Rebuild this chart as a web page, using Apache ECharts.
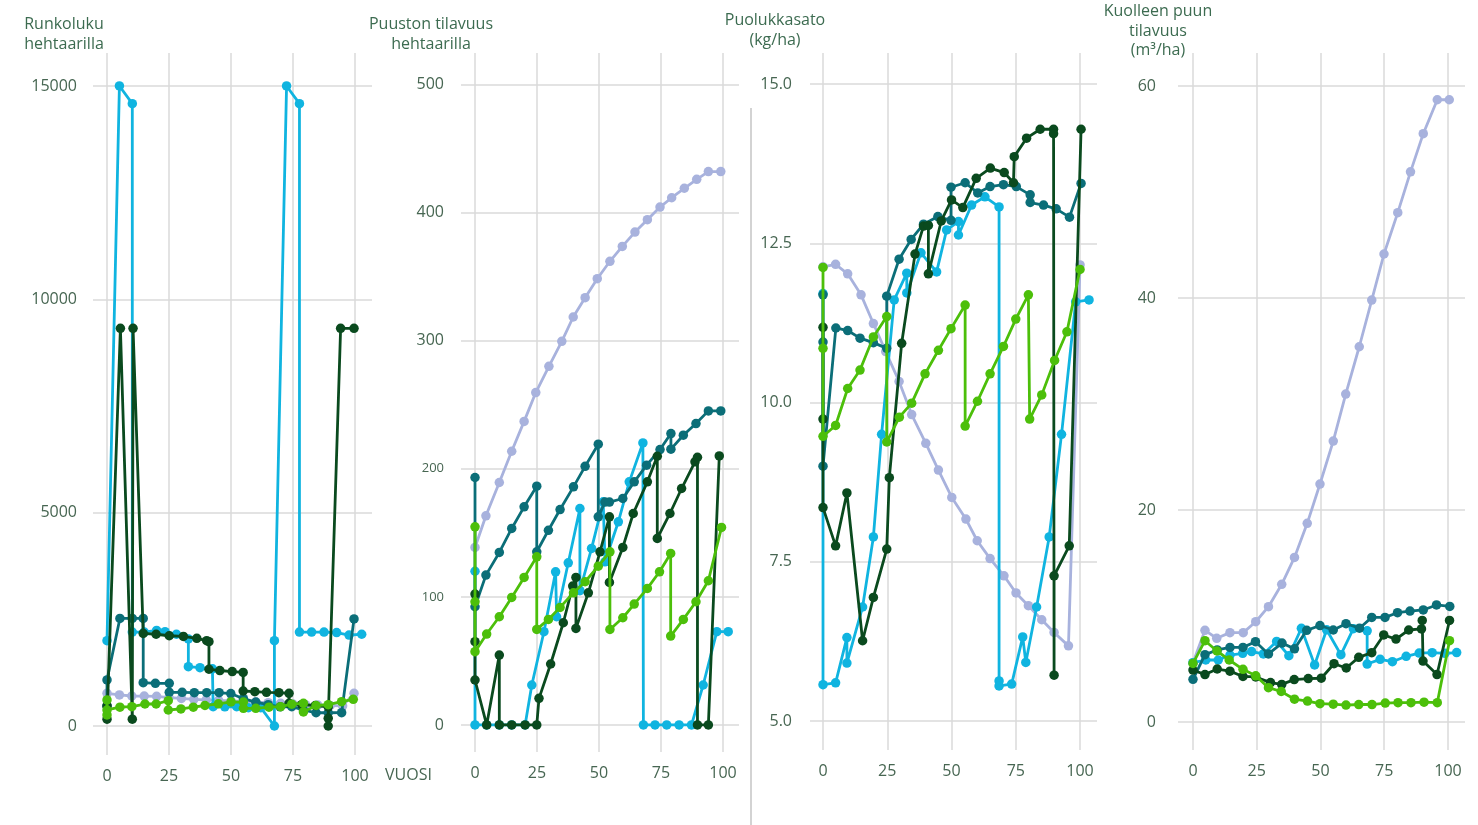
<!DOCTYPE html>
<html>
<head>
<meta charset="utf-8">
<title>Metsän kehitys</title>
<script src="https://cdn.jsdelivr.net/npm/echarts@6/dist/echarts.min.js"></script>
<style>
    html, body { margin: 0; padding: 0; background: #fff; }
    #chart { width: 1478px; height: 825px; }
</style>
</head>
<body>
<div id="chart"></div>
<script>
// x = vuosi, y = arvo; pisteet luettu kuvasta
var yearTicks = [0, 25, 50, 75, 100];
var stemsTicks = [0, 5000, 10000, 15000];
var volumeTicks = [0, 100, 200, 300, 400, 500];
var berryTicks = [5, 7.5, 10, 12.5, 15];
var deadTicks = [0, 20, 40, 60];

// Runkoluku hehtaarilla
var stemsLilac = [[0,765],[5,728],[10,703],[15,700],[20,695],[25,665],[30,645],[35,625],[40,610],[45,600],[50,590],[55,575],[60,560],[65,545],[70,530],[75,515],[80,500],[85,490],[90,480],[95,470],[99.6,765]];
var stemsCyan = [[0,2000],[5,15000],[10.2,14585],[10.2,2200],[15,2200],[20,2240],[23.4,2210],[28,2150],[32.8,2040],[32.8,1390],[37.5,1366],[42.5,1340],[42.8,453],[47.5,450],[52.3,453],[57,430],[62,430],[67.5,0],[67.5,2000],[72.4,15000],[77.6,14585],[77.6,2200],[82.5,2200],[87.5,2200],[92.6,2190],[97.6,2130],[102.7,2150]];
var stemsTeal = [[0,470],[0,1080],[5.2,2520],[10.2,2520],[14.6,2520],[14.6,1015],[19.5,1000],[25.1,1000],[25.1,790],[30.3,790],[35.2,780],[40.2,780],[45.2,780],[49.9,760],[55,640],[60,560],[65,500],[69.8,450],[74.5,453],[79.2,375],[84.3,310],[89.2,310],[94.6,312],[99.6,2510]];
var stemsDark = [[0,470],[0,160],[5.4,9320],[10.2,160],[10.5,9320],[14.6,2170],[19.8,2150],[25.1,2115],[30.8,2100],[36.2,2055],[40.2,2000],[41.1,1975],[41.1,1330],[45.5,1300],[50.5,1275],[54.9,1255],[54.9,820],[59.6,805],[64.3,790],[69.3,780],[73.4,765],[73.4,530],[78.5,500],[84,480],[89.2,450],[89.2,0],[89.2,180],[94.2,9320],[99.6,9320]];
var stemsGreen = [[0,610],[0,258],[0,375],[5.2,440],[10,453],[15.3,515],[19.8,515],[24.7,593],[24.7,375],[29.8,400],[34.8,440],[39.5,480],[44.9,520],[50,565],[55,560],[55,415],[60,415],[65.3,440],[70,453],[74.5,510],[79.2,530],[79.2,330],[84.3,480],[89.2,500],[94.6,570],[99.3,625]];

// Puuston tilavuus hehtaarilla
var volumeLilac = [[0,138.6],[4.4,163.3],[9.8,189.3],[14.8,213.7],[19.8,237],[24.5,259.5],[29.8,280],[35,299.5],[39.6,318.5],[44.4,333.6],[49.3,348.4],[54.4,362],[59.4,373.6],[64.5,384.8],[69.5,394.5],[74.6,404.3],[79.3,411.6],[84.4,419],[89.4,426],[94.1,432],[99.1,432]];
var volumeCyan = [[0,120],[0,0],[4.7,0],[9.8,0],[14.8,0],[20.2,0],[22.9,31.2],[27.8,72.8],[32.5,119.6],[32.9,84.5],[37.6,126.6],[42.3,169],[42.3,104.8],[47,137.8],[51.7,174.2],[52.4,127.4],[57.8,158.6],[62.2,189.8],[67.7,220.2],[67.9,0],[72.6,0],[77.3,0],[82.3,0],[87.3,0],[92,31.2],[97.5,72.8],[102.1,72.8]];
var volumeTeal = [[0,193.2],[0,92.3],[4.4,117],[9.8,134.7],[14.8,153.4],[19.8,170.3],[24.9,186.4],[24.9,135.2],[29.6,152],[34.3,168.2],[39.7,185.9],[44.4,201.9],[49.7,219.2],[49.7,162.5],[52.4,174],[54.2,174],[59.6,176.8],[64.2,189.8],[69.2,202.8],[74.6,215],[79,227.5],[79,215.3],[84,226.2],[89.1,235.3],[94.1,245.2],[99.1,245.2]];
var volumeDark = [[0,102.2],[0,65],[0,35.1],[4.7,0],[9.8,54.6],[9.8,0],[14.8,0],[20.2,0],[24.9,0],[25.8,20.8],[30.5,47.6],[35.6,79.8],[39.4,108.4],[40.7,115.2],[40.7,75.4],[45.7,103.2],[50.4,135.2],[54.2,162.5],[54.2,111.3],[59.6,138.6],[63.8,165.1],[69.5,189.8],[73.5,209.8],[73.5,145.6],[78.6,165.1],[83.3,184.6],[88.7,205.4],[89.7,209],[89.7,0],[94.1,0],[98.5,210]];
var volumeGreen = [[0,154.7],[0,96.2],[0,57.2],[4.7,71],[9.8,84.5],[14.8,99.6],[19.8,115.2],[24.9,131.3],[24.9,74.6],[29.6,82.4],[34.3,91.8],[39.7,103.2],[44.4,111.8],[49.7,124],[54.4,135.2],[54.4,74.6],[59.6,83.7],[64.2,94.4],[69.5,106.6],[74.4,119.6],[78.9,133.9],[78.9,69.4],[84,82.4],[89.1,96.2],[94.1,112.6],[99.4,154.2]];

// Puolukkasato (kg/ha)
var berryLilac = [[0,12.13],[4.9,12.17],[9.6,12.02],[14.8,11.69],[19.6,11.24],[24.4,10.8],[29.6,10.33],[34.5,9.81],[40,9.36],[44.9,8.94],[50.1,8.51],[55.6,8.17],[60,7.83],[65,7.55],[70.4,7.28],[75.1,7.01],[79.9,6.81],[85.1,6.59],[89.9,6.39],[95.5,6.18],[100,12.16]];
var berryCyan = [[0,11.71],[0,5.57],[4.9,5.6],[9.3,6.31],[9.3,5.91],[15.4,6.79],[19.6,7.89],[22.8,9.5],[27.7,11.61],[32.6,12.03],[32.6,11.72],[38.1,12.35],[44.2,12.05],[48.1,12.71],[52.7,12.84],[52.7,12.63],[57.8,13.1],[63,13.23],[68.5,13.07],[68.5,5.63],[68.5,5.55],[73.4,5.58],[77.7,6.32],[78.9,5.92],[83.1,6.79],[88,7.89],[92.8,9.5],[98.3,11.58],[103.5,11.61]];
var berryTeal = [[0,11.69],[0,10.95],[0,9.0],[5,11.17],[9.6,11.13],[14.4,11.01],[19.6,10.94],[24.8,10.85],[24.8,11.67],[29.6,12.25],[34.3,12.56],[39.1,12.8],[44.7,12.92],[49.8,12.86],[49.8,13.38],[55.3,13.45],[60.2,13.29],[65,13.39],[70.2,13.42],[75.2,13.39],[80.6,13.26],[80.6,13.14],[85.8,13.1],[90.7,13.04],[95.9,12.91],[100.4,13.44]];
var berryDark = [[0,11.18],[0,9.74],[0,8.35],[4.9,7.75],[9.3,8.58],[15.4,6.26],[19.6,6.94],[24.8,7.7],[25.8,8.82],[30.6,10.93],[35.8,12.33],[39.1,12.77],[41,12.78],[41,12.02],[46,12.85],[50,13.18],[54.4,13.06],[59.6,13.52],[65.1,13.68],[70.5,13.61],[74.1,13.45],[74.4,13.86],[79.2,14.15],[84.5,14.29],[89.7,14.29],[89.7,14.22],[89.9,5.72],[89.9,7.28],[95.8,7.75],[100.4,14.29]];
var berryGreen = [[0,12.12],[0,10.85],[0,9.47],[4.9,9.64],[9.6,10.22],[14.4,10.51],[19.6,11.03],[24.8,11.35],[24.8,9.38],[29.7,9.77],[34.5,9.99],[39.7,10.45],[44.9,10.82],[49.8,11.16],[55.3,11.53],[55.3,9.63],[60.1,10.02],[65,10.45],[70.2,10.88],[75,11.31],[79.9,11.69],[80.4,9.74],[85.1,10.12],[90.1,10.66],[94.9,11.11],[100,12.09]];

// Kuolleen puun tilavuus (m3/ha)
var deadLilac = [[0,5.6],[4.7,8.65],[9.3,7.9],[14.5,8.43],[19.7,8.43],[24.6,9.46],[29.6,10.88],[34.8,12.99],[39.8,15.53],[44.8,18.74],[49.8,22.45],[55,26.5],[59.9,30.94],[65.2,35.4],[70.1,39.8],[74.9,44.15],[80.3,48.05],[85.3,51.9],[90.3,55.5],[95.8,58.7],[100.5,58.7]];
var deadCyan = [[0,5.6],[5,5.85],[9.9,5.85],[14.5,6.32],[19.5,6.48],[23,6.64],[27.6,6.42],[32.8,7.6],[37.6,6.25],[42.5,8.84],[47.7,5.38],[52.4,8.7],[58,6.35],[62.9,8.8],[68.3,8.6],[68.3,5.47],[73.4,5.91],[78.2,5.69],[83.6,6.2],[88.7,6.5],[93.8,6.54],[98.8,6.48],[103.4,6.55]];
var deadTeal = [[0,4.03],[4.7,6.35],[9.5,6.8],[14.5,7.04],[19.6,7.04],[24.5,7.58],[29.6,6.42],[34.9,7.45],[39.8,6.9],[44.6,8.65],[49.8,9.1],[55,8.68],[60,9.28],[65.3,8.85],[70.1,9.87],[75.3,9.87],[80.2,10.31],[85.1,10.47],[90.3,10.57],[95.5,11.04],[100.7,10.9]];
var deadDark = [[0,4.9],[4.7,4.48],[9.5,5.0],[14.5,4.8],[19.6,4.3],[24.6,4.25],[30.4,3.72],[34.8,3.55],[39.7,4.0],[45.2,4.1],[50.3,4.13],[55.3,5.5],[60.1,5.1],[65,6.1],[70.1,6.54],[74.8,8.21],[79.6,7.82],[84.6,8.68],[89.6,8.78],[89.9,9.58],[90.2,5.75],[95.7,4.48],[100.6,9.58]];
var deadGreen = [[0,5.53],[4.7,7.67],[9.4,6.7],[14.2,5.85],[19.6,4.97],[24.6,4.36],[29.6,3.24],[34.6,2.88],[39.8,2.15],[44.9,1.98],[49.8,1.73],[55,1.68],[60,1.6],[65,1.65],[70.2,1.65],[75.4,1.79],[80.4,1.82],[85.5,1.82],[90.6,1.87],[95.8,1.82],[100.6,7.67]];

var colors = ['#a8b2dd', '#10b4e0', '#0b6e78', '#0a4a1e', '#4cbf0a'];
var labelColor = '#476652';
var titleColor = '#3c6b50';
var gridColor = '#dadada';
var font = '"Open Sans", "Noto Sans", sans-serif';

var panels = [
    {
        series: [stemsLilac, stemsCyan, stemsTeal, stemsDark, stemsGreen],
        ticks: stemsTicks,
        grid: {left: 93, top: 53, width: 279, height: 702},
        x: [-5.65, 106.85], y: [-680, 15773], labelMargin: 16,
        format: function (v) { return String(v); }
    },
    {
        series: [volumeLilac, volumeCyan, volumeTeal, volumeDark, volumeGreen],
        ticks: volumeTicks,
        grid: {left: 461, top: 53, width: 278, height: 699},
        x: [-5.65, 106.45], y: [-21.1, 524.6], labelMargin: 17,
        format: function (v) { return (v === 100 || v === 200) ? '{s|' + v + '}' : String(v); }
    },
    {
        series: [berryLilac, berryCyan, berryTeal, berryDark, berryGreen],
        ticks: berryTicks,
        grid: {left: 810, top: 53, width: 287, height: 697},
        x: [-5.06, 106.6], y: [4.545, 15.487], labelMargin: 18,
        format: function (v) { return v.toFixed(1); }
    },
    {
        series: [deadLilac, deadCyan, deadTeal, deadDark, deadGreen],
        ticks: deadTicks,
        grid: {left: 1178, top: 53, width: 287, height: 697},
        x: [-5.88, 106.67], y: [-2.64, 63.11], labelMargin: 22,
        format: function (v) { return String(v); }
    }
];

var grids = [], xAxes = [], yAxes = [], series = [];
panels.forEach(function (p, i) {
    grids.push(p.grid);
    xAxes.push({
        type: 'value', gridIndex: i, min: p.x[0], max: p.x[1],
        axisLine: {show: false},
        axisTick: {show: false, customValues: yearTicks},
        axisLabel: {customValues: yearTicks, color: labelColor, fontSize: 16, fontFamily: font, margin: 13},
        splitLine: {show: true, lineStyle: {color: gridColor, width: 1.5}}
    });
    yAxes.push({
        type: 'value', gridIndex: i, min: p.y[0], max: p.y[1],
        axisLine: {show: false},
        axisTick: {show: false, customValues: p.ticks},
        axisLabel: {
            customValues: p.ticks, color: labelColor, fontSize: 16, fontFamily: font,
            margin: p.labelMargin, formatter: p.format,
            rich: {s: {fontSize: 13, color: labelColor, fontFamily: font}}
        },
        splitLine: {show: true, lineStyle: {color: gridColor, width: 1.5}}
    });
    p.series.forEach(function (d, k) {
        series.push({
            type: 'line', xAxisIndex: i, yAxisIndex: i, data: d,
            symbol: 'circle', symbolSize: 9.5, showSymbol: true,
            lineStyle: {width: 2.8, color: colors[k]},
            itemStyle: {color: colors[k]},
            emphasis: {disabled: true},
            z: 2 + k
        });
    });
});

var titles = [
    {text: 'Runkoluku\nhehtaarilla', x: 64, y: 15},
    {text: 'Puuston tilavuus\nhehtaarilla', x: 431, y: 15},
    {text: 'Puolukkasato\n(kg/ha)', x: 775, y: 11},
    {text: 'Kuolleen puun\ntilavuus\n(m³/ha)', x: 1158, y: 2}
];

var graphic = titles.map(function (t) {
    return {
        type: 'text', x: t.x, y: t.y, silent: true,
        style: {
            text: t.text, align: 'center', verticalAlign: 'top',
            fill: titleColor, font: '16px ' + font, lineHeight: 19.5
        }
    };
});
graphic.push({
    type: 'text', x: 385, y: 767, silent: true,
    style: {text: 'VUOSI', fill: labelColor, font: '16px ' + font}
});
graphic.push({
    type: 'line', silent: true,
    shape: {x1: 751, y1: 108, x2: 751, y2: 825},
    style: {stroke: '#c4c4c4', lineWidth: 1.5}
});

var myChart = echarts.init(document.getElementById('chart'));
myChart.setOption({
    animation: false,
    backgroundColor: '#fff',
    tooltip: {show: false},
    grid: grids,
    xAxis: xAxes,
    yAxis: yAxes,
    series: series,
    graphic: graphic
});
</script>
</body>
</html>
